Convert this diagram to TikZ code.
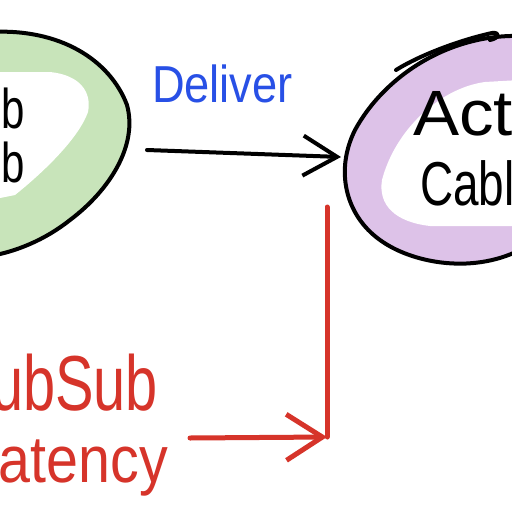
\documentclass[tikz,border=0pt]{standalone}
\usepackage{fontspec}
\setmainfont{Liberation Sans}
\usetikzlibrary{arrows.meta}
\definecolor{bandgreen}{RGB}{200,228,186}
\definecolor{bandpurple}{RGB}{221,194,232}
\definecolor{inkblue}{RGB}{40,80,230}
\definecolor{inkred}{RGB}{214,52,42}
\tikzset{
  outline/.style={draw=black,line width=4pt,line cap=round,line join=round},
  blackink/.style={black,line width=4pt,line cap=round,line join=round},
  redink/.style={inkred,line width=5pt,line cap=round,line join=round},
  barbblack/.style={-{Straight Barb[length=34pt,width=40pt,line width=4pt]}},
  barbred/.style={-{Straight Barb[length=36pt,width=46pt,line width=5pt]}},
  lbl/.style={inner sep=0pt,outer sep=0pt}
}
\begin{document}
\begin{tikzpicture}[x=1pt,y=-1pt]
\useasboundingbox (0,0) rectangle (512,512);
\clip (0,0) rectangle (512,512);
\fill[white] (0,0) rectangle (512,512);
% left (Pub Sub) blob
\fill[bandgreen] (-10,30) .. controls (60,28) and (110,60) .. (127,105)
  .. controls (138,145) and (110,190) .. (70,220)
  .. controls (45,240) and (15,252) .. (-10,256) -- cycle;
\fill[white] (-10,72) -- (50,72) .. controls (80,75) and (92,92) .. (88,112)
  .. controls (78,140) and (40,175) .. (15,195) -- (-10,200) -- cycle;
\draw[outline] (-10,32) .. controls (60,28) and (110,60) .. (127,105)
  .. controls (138,145) and (110,190) .. (70,220)
  .. controls (45,240) and (15,252) .. (-10,256);
\node[lbl,anchor=base east,font=\fontsize{56}{60}\selectfont,xscale=0.75] (pub) at (25,128) {Pub};
\node[lbl,anchor=base east,font=\fontsize{56}{60}\selectfont,xscale=0.75] (sub) at (25,182) {Sub};
% right (Action Cable) blob
\fill[bandpurple] (520,36) .. controls (450,34) and (385,75) .. (355,130)
  .. controls (335,170) and (345,215) .. (380,240)
  .. controls (410,262) and (470,275) .. (520,250) -- cycle;
\fill[white] (520,80) -- (485,82) .. controls (440,88) and (395,130) .. (382,180)
  .. controls (378,205) and (395,222) .. (430,226) -- (520,226) -- cycle;
\draw[outline] (520,36) .. controls (450,34) and (385,75) .. (355,130)
  .. controls (335,170) and (345,215) .. (380,240)
  .. controls (410,262) and (470,275) .. (520,250);
\draw[outline] (396,70) .. controls (420,55) and (460,40) .. (492,33)
  .. controls (500,32) and (500,38) .. (490,40);
\node[lbl,anchor=base west,font=\fontsize{64}{68}\selectfont,xscale=1.08] (action) at (413,135) {Action};
\node[lbl,anchor=base west,font=\fontsize{62}{66}\selectfont,xscale=0.74] (cable) at (420,205) {Cable};
% deliver arrow
\coordinate (pubE) at (147,150);
\coordinate (actW) at (341,157);
\draw[blackink,barbblack] (pubE) -- (actW);
\node[lbl,anchor=base west,inkblue,font=\fontsize{52}{56}\selectfont,xscale=0.87] (deliver) at (152,102) {Deliver};
% latency
\coordinate (latTop) at (327,207);
\coordinate (latCorner) at (327,437);
\coordinate (latStart) at (190,438);
\draw[redink] (latTop) -- (latCorner);
\draw[redink,barbred] (latStart) -- (latCorner);
\node[lbl,anchor=base east,inkred,font=\fontsize{78}{82}\selectfont,xscale=0.74] (pubsub) at (158,410) {PubSub};
\node[lbl,anchor=base east,inkred,font=\fontsize{66}{70}\selectfont,xscale=0.87] (latency) at (168,482) {Latency};
\end{tikzpicture}
\end{document}
